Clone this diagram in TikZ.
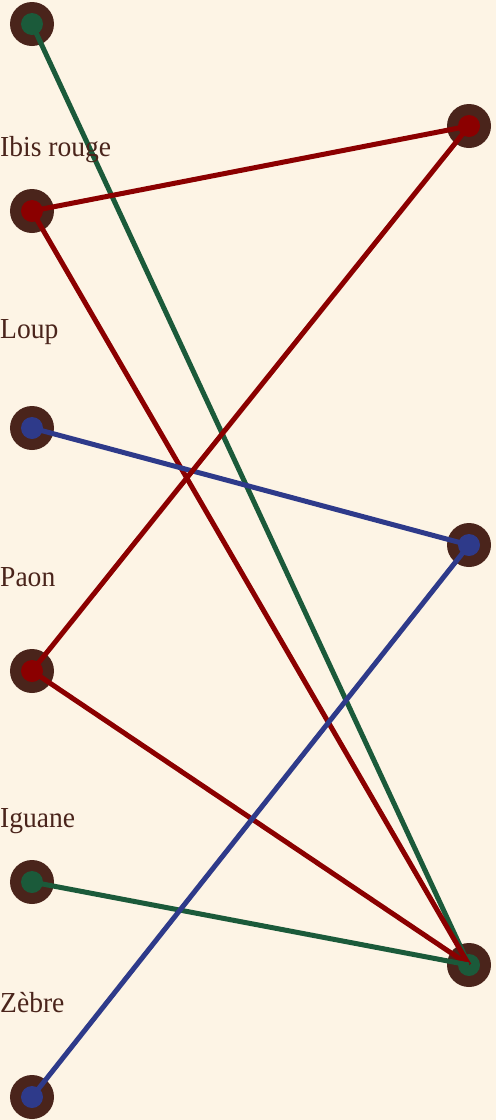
\documentclass[tikz,border=0pt]{standalone}
\usepackage{graphicx}
\usepackage{fontspec}
\setmainfont{Liberation Serif}
\definecolor{bg}{HTML}{FDF4E5}
\definecolor{ring}{HTML}{4A241B}
\definecolor{cgreen}{HTML}{1B5A3A}
\definecolor{cred}{HTML}{8B0000}
\definecolor{cblue}{HTML}{2E3A8A}
\definecolor{txt}{HTML}{4A241B}
\tikzset{
  pt/.style={circle, fill=ring, minimum size=44bp, inner sep=0pt},
  dotg/.style={circle, fill=cgreen, minimum size=22bp, inner sep=0pt},
  dotr/.style={circle, fill=cred, minimum size=22bp, inner sep=0pt},
  dotb/.style={circle, fill=cblue, minimum size=22bp, inner sep=0pt},
  edge/.style={line width=5bp},
  lab/.style={anchor=base west, inner sep=0pt, text=txt, font=\fontsize{29bp}{29bp}\selectfont}
}
\begin{document}
\begin{tikzpicture}[x=1bp,y=-1bp]
\fill[bg] (0,0) rectangle (496,1120);
\useasboundingbox (0,0) rectangle (496,1120);
% outer rings
\node[pt] (l1) at (32,24) {};
\node[pt] (l2) at (32,211) {};
\node[pt] (l3) at (32,428) {};
\node[pt] (l4) at (32,671) {};
\node[pt] (l5) at (32,882) {};
\node[pt] (l6) at (32,1097) {};
\node[pt] (r1) at (469,126) {};
\node[pt] (r2) at (469,545) {};
\node[pt] (r3) at (469,965) {};
% inner dots
\node[dotg] at (l1) {};
\node[dotr] at (l2) {};
\node[dotb] at (l3) {};
\node[dotr] at (l4) {};
\node[dotg] at (l5) {};
\node[dotb] at (l6) {};
\node[dotr] at (r1) {};
\node[dotb] at (r2) {};
\node[dotg] at (r3) {};
% connectors
\draw[edge, cgreen] (l1.center) -- (r3.center);
\draw[edge, cred] (l2.center) -- (r1.center);
\draw[edge, cred] (l2.center) -- (r3.center);
\draw[edge, cblue] (l3.center) -- (r2.center);
\draw[edge, cred] (l4.center) -- (r1.center);
\draw[edge, cred] (l4.center) -- (r3.center);
\draw[edge, cgreen] (l5.center) -- (r3.center);
\draw[edge, cblue] (l6.center) -- (r2.center);
% labels
\node[lab] (t2) at (0,156) {\scalebox{0.95}[1]{Ibis rouge}};
\node[lab] (t3) at (0,338) {\scalebox{0.95}[1]{Loup}};
\node[lab] (t4) at (0,586) {\scalebox{0.95}[1]{Paon}};
\node[lab] (t5) at (0,827) {\scalebox{0.95}[1]{Iguane}};
\node[lab] (t6) at (0,1012) {\scalebox{0.95}[1]{Zèbre}};
\end{tikzpicture}
\end{document}
